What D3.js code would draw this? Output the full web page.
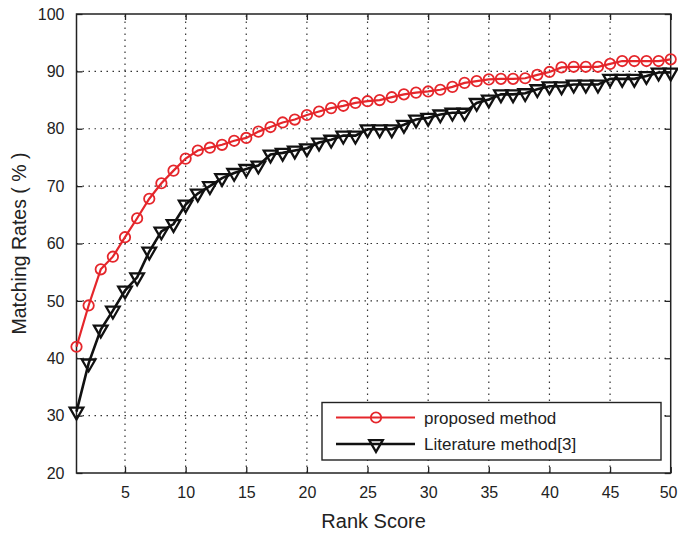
<!DOCTYPE html>
<html><head><meta charset="utf-8">
<script src="https://cdn.jsdelivr.net/npm/d3@7"></script>
<style>body{margin:0;background:#fff}svg{display:block}text{font-family:"Liberation Sans",Arial,sans-serif;fill:#222}</style>
</head><body>
<script>
const rankScores = d3.range(1, 51);
const proposedMethod = [42.0,49.2,55.5,57.7,61.1,64.4,67.8,70.5,72.7,74.8,76.2,76.7,77.2,77.9,78.4,79.5,80.3,81.1,81.6,82.4,83.0,83.6,84.0,84.5,84.8,85.0,85.5,86.0,86.3,86.5,86.8,87.3,88.0,88.3,88.6,88.7,88.7,88.8,89.4,89.9,90.7,90.8,90.8,90.8,91.3,91.8,91.8,91.8,91.8,92.1];
const literatureMethod = [30.7,39.1,45.0,48.3,51.8,54.1,58.6,62.1,63.4,66.8,68.7,70.0,71.4,72.3,73.0,73.6,75.5,75.8,76.2,76.6,77.6,78.1,78.8,78.8,79.9,79.9,79.9,80.7,81.6,81.9,82.5,82.8,82.8,84.5,85.1,86.0,86.0,86.2,86.9,87.4,87.4,87.7,87.7,87.7,88.7,88.7,88.7,89.2,89.8,89.8];
const xTicks = [5,10,15,20,25,30,35,40,45,50];
const yTicks = [20,30,40,50,60,70,80,90,100];
const seriesNames = ["proposed method","Literature method[3]"];

const W = 678, H = 536;
const m = {left:76.5, right:678-670.7, top:14, bottom:536-473};
const svg = d3.select("body").append("svg").attr("width",W).attr("height",H);
const x = d3.scaleLinear().domain([1,50]).range([m.left, W-m.right]);
const y = d3.scaleLinear().domain([20,100]).range([H-m.bottom, m.top]);
const x0=x.range()[0], x1=x.range()[1], y0=y.range()[0], y1=y.range()[1];

// grid
const g = svg.append("g");
g.selectAll(".vg").data(xTicks.filter(t=>t<50)).enter().append("line")
  .attr("x1",d=>x(d)).attr("x2",d=>x(d)).attr("y1",y0).attr("y2",y1)
  .attr("stroke","#333").attr("stroke-width",1.2).attr("stroke-dasharray","1.5,4.5");
g.selectAll(".hg").data(yTicks.filter(t=>t>20&&t<100)).enter().append("line")
  .attr("y1",d=>y(d)).attr("y2",d=>y(d)).attr("x1",x0).attr("x2",x1)
  .attr("stroke","#333").attr("stroke-width",1.2).attr("stroke-dasharray","1.5,4.5");

// axes with inward ticks
const axB = svg.append("g").attr("transform",`translate(0,${y0})`)
  .call(d3.axisBottom(x).tickValues(xTicks).tickSizeInner(-6).tickSizeOuter(0).tickPadding(14));
const axT = svg.append("g").attr("transform",`translate(0,${y1})`)
  .call(d3.axisTop(x).tickValues(xTicks).tickSizeInner(-6).tickSizeOuter(0).tickFormat(""));
const axL = svg.append("g").attr("transform",`translate(${x0},0)`)
  .call(d3.axisLeft(y).tickValues(yTicks).tickSizeInner(-6).tickSizeOuter(0).tickPadding(12));
const axR = svg.append("g").attr("transform",`translate(${x1},0)`)
  .call(d3.axisRight(y).tickValues(yTicks).tickSizeInner(-6).tickSizeOuter(0).tickFormat(""));
[axB,axT,axL,axR].forEach(a=>{a.select(".domain").remove();a.selectAll("line").attr("stroke","#222").attr("stroke-width",1.3);});
axB.selectAll("text").attr("font-size",16).attr("fill","#222").style("font-family","Liberation Sans, Arial, sans-serif");
axB.selectAll("text").filter(d=>d===50).attr("text-anchor","end").attr("dx",W-1-x1);
axL.selectAll("text").attr("font-size",16).attr("fill","#222").style("font-family","Liberation Sans, Arial, sans-serif");
svg.append("rect").attr("x",x0).attr("y",y1).attr("width",x1-x0).attr("height",y0-y1)
  .attr("fill","none").attr("stroke","#222").attr("stroke-width",1.5);

// series
const red="#e5262b", blk="#111";
const line = d3.line().x((d,i)=>x(rankScores[i])).y(d=>y(d));
svg.append("path").datum(proposedMethod).attr("d",line).attr("fill","none").attr("stroke",red).attr("stroke-width",2.2);
svg.append("path").datum(literatureMethod).attr("d",line).attr("fill","none").attr("stroke",blk).attr("stroke-width",2.6);
svg.selectAll(".pc").data(proposedMethod).enter().append("circle")
  .attr("cx",(d,i)=>x(rankScores[i])).attr("cy",d=>y(d)).attr("r",5.2)
  .attr("fill","none").attr("stroke",red).attr("stroke-width",1.8);
const tri = d3.symbol().type(d3.symbolTriangle).size(80);
svg.selectAll(".lt").data(literatureMethod).enter().append("path")
  .attr("d",tri).attr("transform",(d,i)=>`translate(${x(rankScores[i])},${y(d)}) rotate(180)`)
  .attr("fill","none").attr("stroke",blk).attr("stroke-width",2.3);

// legend
const lg = svg.append("g");
lg.append("rect").attr("x",322).attr("y",402.5).attr("width",339).attr("height",57.5)
  .attr("fill","#fff").attr("stroke","#222").attr("stroke-width",1.4);
const rows=[{n:seriesNames[0],c:red,yy:417.5,t:"c"},{n:seriesNames[1],c:blk,yy:444,t:"t"}];
rows.forEach(r=>{
  lg.append("line").attr("x1",336).attr("x2",415).attr("y1",r.yy).attr("y2",r.yy).attr("stroke",r.c).attr("stroke-width",r.t=="c"?2.2:2.6);
  if(r.t=="c") lg.append("circle").attr("cx",376).attr("cy",r.yy).attr("r",5.2).attr("fill","none").attr("stroke",red).attr("stroke-width",1.8);
  else lg.append("path").attr("d",tri).attr("transform",`translate(376,${r.yy}) rotate(180)`).attr("fill","none").attr("stroke",blk).attr("stroke-width",2.3);
  lg.append("text").attr("x",424).attr("y",r.yy+6).attr("font-size",17).text(r.n);
});

// axis labels
svg.append("text").attr("x",(x0+x1)/2).attr("y",528).attr("text-anchor","middle").attr("font-size",20).text("Rank Score");
svg.append("text").attr("transform",`translate(26,${(y0+y1)/2}) rotate(-90)`).attr("text-anchor","middle").attr("font-size",19.5).text("Matching Rates ( % )");
</script>
</body></html>
